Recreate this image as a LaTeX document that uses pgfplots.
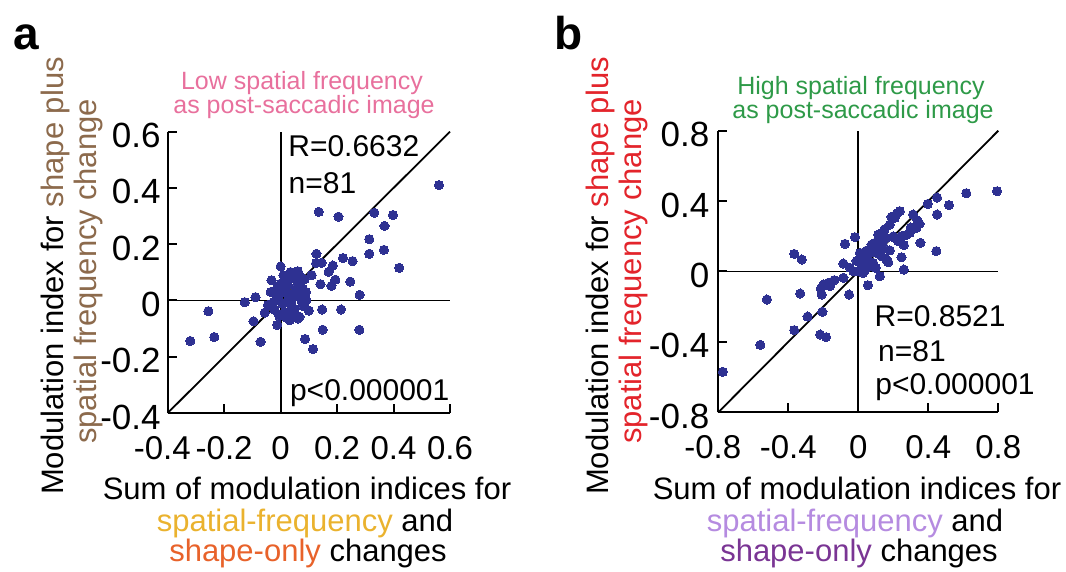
\documentclass[border=0pt]{standalone}
\usepackage{pgfplots}
\pgfplotsset{compat=1.18}
\usepackage{fontspec}
\setmainfont{Liberation Sans}
\definecolor{dotc}{HTML}{2E3192}
\definecolor{pinkt}{HTML}{E8709D}
\definecolor{greent}{HTML}{2E9A48}
\definecolor{brownc}{HTML}{8C6A4C}
\definecolor{redc}{HTML}{E3242B}
\definecolor{yelc}{HTML}{EAB22E}
\definecolor{orac}{HTML}{E8622A}
\definecolor{lpurc}{HTML}{B58BE0}
\definecolor{purc}{HTML}{7A3594}
\pgfplotsset{myax/.style={
  scale only axis, axis lines*=left, tick align=inside,
  axis line style={-, line width=1pt, black},
  major tick length=4.5pt,
  every tick/.style={black, line width=1pt},
  yticklabel style={font=\fontsize{17.5}{20}\selectfont, text=black, yshift=-2pt},
  xticklabel style={font=\fontsize{16.5}{20}\selectfont, text=black, yshift=-8pt},
  /pgf/number format/assume math mode=true,
  clip=false,
}}
\begin{document}
\begin{tikzpicture}
\path[use as bounding box] (0,0) rectangle (533pt,286pt);
% ---------------- panel a
\begin{axis}[myax, at={(83.85pt,79.5pt)}, anchor=south west,
  width=141.15pt, height=140.65pt,
  xmin=-0.4, xmax=0.6, ymin=-0.4, ymax=0.6,
  xtick={-0.4,-0.2,0,0.2,0.4,0.6}, xticklabels={\makebox[0pt][r]{-}0.4,-0.2,0,0.2,0.4,0.6},
  ytick={-0.4,-0.2,0,0.2,0.4,0.6}, yticklabels={\raisebox{-4pt}{-0.4},-0.2,0,0.2,0.4,0.6}]
\addplot[black, line width=0.9pt] coordinates {(-0.4,0) (0.6,0)};
\addplot[black, line width=0.9pt] coordinates {(0,-0.4) (0,0.6)};
\addplot[black, line width=0.9pt] coordinates {(-0.4,-0.4) (0.6,0.6)};
\addplot[only marks, mark=*, mark size=2.3pt, color=dotc, mark options={draw=dotc, fill=dotc, line width=0pt}] coordinates {
(0.561,0.410) (0.135,0.315) (0.205,0.298) (0.332,0.312) (0.398,0.304)
(0.368,0.265) (0.314,0.218) (0.314,0.166) (0.366,0.180) (0.420,0.116)
(0.127,0.166) (0.145,0.134) (0.126,0.133) (0.221,0.151) (0.255,0.140)
(0.185,0.124) (0.170,0.102) (0.194,0.074) (0.180,0.052) (0.141,0.058)
(0.247,0.067) (0.280,0.020) (0.000,0.121) (-0.032,0.072) (-0.089,0.012)
(-0.127,-0.006) (-0.045,-0.016) (-0.056,-0.043) (-0.256,-0.038) (-0.235,-0.130)
(-0.320,-0.144) (-0.096,-0.074) (-0.071,-0.147) (-0.012,-0.087) (0.147,-0.032)
(0.214,-0.032) (0.149,-0.104) (0.279,-0.104) (0.087,-0.137) (0.115,-0.173)
(0.100,-0.036) (0.067,-0.058)
(0.035,0.101) (0.061,0.104) (0.050,0.078) (0.024,0.068) (-0.012,0.045)
(0.012,0.048) (0.079,0.042) (0.055,0.037) (0.050,0.013) (0.067,0.019)
(0.091,0.001) (0.026,-0.005) (-0.021,-0.034) (0.014,-0.040) (0.038,-0.050)
(0.032,-0.070) (0.061,-0.064)
(0.045,0.090) (0.070,0.085) (0.020,0.030) (-0.005,0.020) (0.005,-0.010)
(-0.015,0.005) (0.030,0.015) (0.040,-0.020) (0.080,-0.020) (0.060,0.055)
(0.085,0.075) (-0.025,-0.005) (0.010,0.090) (-0.005,-0.055) (0.020,-0.060)
(0.050,-0.030) (0.090,0.030) (-0.035,0.030) (0.000,0.060) (0.075,-0.005)
(0.110,0.090) (0.025,0.055)
};
\node[anchor=base west, inner sep=0pt, font=\fontsize{15}{18}\selectfont] at (axis cs:0.026,0.510) {R=0.6632};
\node[anchor=base west, inner sep=0pt, font=\fontsize{15}{18}\selectfont] at (axis cs:0.027,0.380) {n=81};
\node[anchor=base west, inner sep=0pt, font=\fontsize{15}{18}\selectfont] at (axis cs:0.032,-0.354) {p<0.000001};
\end{axis}
% ---------------- panel b
\begin{axis}[myax, at={(359.15pt,79.85pt)}, anchor=south west,
  width=140pt, height=140.8pt,
  xmin=-0.8, xmax=0.8, ymin=-0.8, ymax=0.8,
  xtick={-0.8,-0.4,0,0.4,0.8}, xticklabels={\makebox[0pt][r]{-}0.8,-0.4,0,0.4,0.8},
  ytick={-0.8,-0.4,0,0.4,0.8}, yticklabels={\raisebox{-4pt}{-0.8},-0.4,0,0.4,0.8},
  yticklabel style={xshift=-1pt}]
\addplot[black, line width=0.9pt] coordinates {(-0.8,0) (0.8,0)};
\addplot[black, line width=0.9pt] coordinates {(0,-0.8) (0,0.8)};
\addplot[black, line width=0.9pt] coordinates {(-0.8,-0.8) (0.8,0.8)};
\addplot[only marks, mark=*, mark size=2.3pt, color=dotc, mark options={draw=dotc, fill=dotc, line width=0pt}] coordinates {
(0.793,0.456) (0.617,0.445) (0.518,0.377) (0.450,0.420) (0.397,0.384)
(0.450,0.324) (0.446,0.116) (0.355,0.163) (0.313,0.324) (0.338,0.290)
(0.332,0.248) (0.294,0.220) (0.271,0.206) (0.237,0.343) (0.209,0.305)
(0.180,0.267) (0.260,0.150) (0.247,0.081) (0.260,0.011) (0.171,0.053)
(0.123,-0.027) (0.055,-0.078) (-0.019,0.195) (-0.076,0.157) (-0.366,0.100)
(-0.323,0.068) (-0.085,0.045) (-0.522,-0.159) (-0.332,-0.125) (-0.214,-0.098)
(-0.209,-0.131) (-0.161,-0.083) (-0.137,-0.049) (-0.053,-0.131) (-0.290,-0.256)
(-0.205,-0.229) (-0.366,-0.333) (-0.218,-0.358) (-0.184,-0.373) (-0.560,-0.417)
(-0.774,-0.570)
(0.247,0.201) (0.228,0.172) (0.209,0.191) (0.161,0.191) (0.114,0.210)
(0.095,0.163) (0.076,0.153) (0.085,0.125) (0.104,0.106) (0.057,0.097)
(0.028,0.106) (0.009,0.106) (0.028,0.078) (0.057,0.059) (0.085,0.049)
(0.133,0.087) (0.161,0.068) (-0.047,0.021) (-0.028,0.002) (0.000,0.002)
(0.028,-0.008) (-0.085,-0.036) (-0.171,-0.064) (-0.199,-0.074) (0.066,0.030)
(0.220,0.330) (0.190,0.310) (0.120,0.180) (0.140,0.150) (0.050,0.120)
(0.180,0.120) (0.300,0.250) (0.020,0.040) (0.100,0.020) (0.130,0.130)
(-0.010,0.060) (0.200,0.200) (0.040,0.010) (0.150,0.240) (0.350,0.270)
};
\node[anchor=base west, inner sep=0pt, font=\fontsize{15}{18}\selectfont] at (axis cs:0.091,-0.314) {R=0.8521};
\node[anchor=base west, inner sep=0pt, font=\fontsize{15}{18}\selectfont] at (axis cs:0.111,-0.510) {n=81};
\node[anchor=base west, inner sep=0pt, font=\fontsize{15}{18}\selectfont] at (axis cs:0.095,-0.699) {p<0.000001};
\end{axis}
% ---------------- texts (pixel coordinates)
\begin{scope}[x=0.5pt, y=-0.5pt, shift={(0pt,286pt)}]
\tikzset{lab/.style={inner sep=0pt, font=\fontsize{15.5}{15.5}\selectfont}}
\node[anchor=base west, inner sep=0pt, font=\fontsize{23}{23}\selectfont\bfseries] at (13,50) {a};
\node[anchor=base west, inner sep=0pt, font=\fontsize{23}{23}\selectfont\bfseries] at (554,50) {b};
\node[anchor=base, inner sep=0pt, font=\fontsize{12.5}{12.5}\selectfont, text=pinkt] at (302,90) {Low spatial frequency};
\node[anchor=base, inner sep=0pt, font=\fontsize{12.5}{12.5}\selectfont, text=pinkt] at (304,113.3) {as post-saccadic image};
\node[anchor=base, inner sep=0pt, font=\fontsize{12.5}{12.5}\selectfont, text=greent] at (861,95) {High spatial frequency};
\node[anchor=base, inner sep=0pt, font=\fontsize{12.5}{12.5}\selectfont, text=greent] at (863,118.3) {as post-saccadic image};
% y labels
\node[lab, anchor=base, rotate=90] at (63,276) {Modulation index for \textcolor{brownc}{shape plus}};
\node[lab, anchor=base, rotate=90, text=brownc] at (96,271.5) {spatial frequency change};
\node[lab, anchor=base, rotate=90] at (608.3,276) {Modulation index for \textcolor{redc}{shape plus}};
\node[lab, anchor=base, rotate=90, text=redc] at (641.7,271.5) {spatial frequency change};
% x labels
\node[lab, anchor=base] at (307,500) {Sum of modulation indices for};
\node[lab, anchor=base] at (305,532) {\textcolor{yelc}{spatial-frequency} and};
\node[lab, anchor=base] at (308,562) {\textcolor{orac}{shape-only} changes};
\node[lab, anchor=base] at (857,500) {Sum of modulation indices for};
\node[lab, anchor=base] at (855,532) {\textcolor{lpurc}{spatial-frequency} and};
\node[lab, anchor=base] at (859,562) {\textcolor{purc}{shape-only} changes};
\end{scope}
\end{tikzpicture}
\end{document}
